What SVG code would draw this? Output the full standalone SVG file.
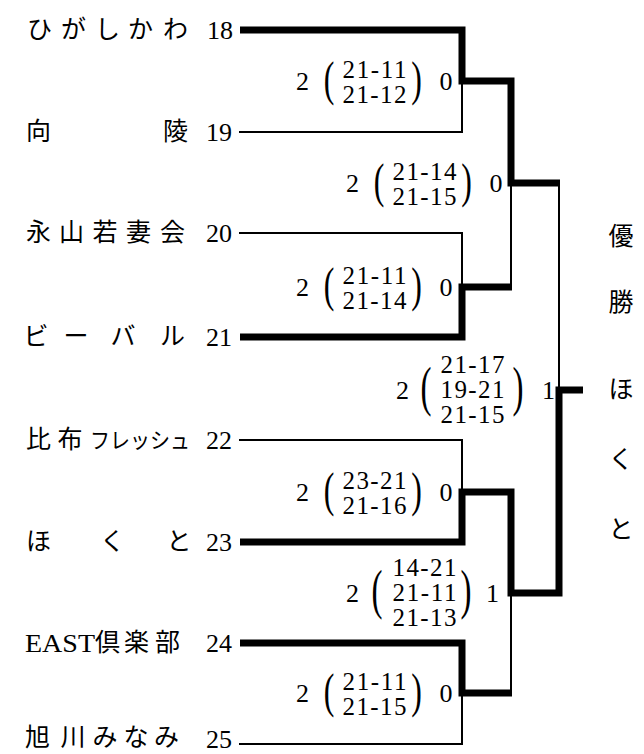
<svg xmlns="http://www.w3.org/2000/svg" width="644" height="754" viewBox="0 0 644 754">
<style>
.thick{fill:none;stroke:#000;stroke-width:7;stroke-linejoin:miter;stroke-linecap:butt}
.thin{fill:none;stroke:#000;stroke-width:2;stroke-linecap:square}
.jp{font-family:"Noto Sans CJK JP",sans-serif;font-size:25px;fill:#000}
.kana{font-family:"Noto Sans CJK JP",sans-serif;font-size:22px;fill:#000}
.num{font-family:"Liberation Serif","DejaVu Serif",serif;font-size:26px;text-anchor:end;fill:#000}
.lat{font-family:"Liberation Serif","DejaVu Serif",serif;font-size:25px;fill:#000}
.big{font-family:"Liberation Serif","DejaVu Serif",serif;font-size:26px;text-anchor:middle;fill:#000}
.sc{font-family:"Liberation Serif","DejaVu Serif",serif;font-size:25px;text-anchor:middle;fill:#000}
.p2{font-family:"Liberation Serif","DejaVu Serif",serif;font-size:49px;text-anchor:middle;fill:#000}
.p3{font-family:"Liberation Serif","DejaVu Serif",serif;font-size:55px;text-anchor:middle;fill:#000}
.win{font-family:"Noto Sans CJK JP",sans-serif;font-size:25px;text-anchor:middle;fill:#000}
</style>
<rect width="644" height="754" fill="#fff"/>
<g id="connectors">
<path class="thin" d="M240,132 H462 V81"/>
<path class="thin" d="M240,233 H462 V287"/>
<path class="thin" d="M240,440 H462 V492"/>
<path class="thin" d="M240,744 H462 V693"/>
<path class="thin" d="M511,183 V287"/>
<path class="thin" d="M511,593 V693"/>
<path class="thin" d="M559,183 V390"/>
<path class="thick" d="M240,30 H462 V81 H511 V183 H560"/>
<path class="thick" d="M240,337 H462 V287 H512"/>
<path class="thick" d="M240,643 H462 V693 H512"/>
<path class="thick" d="M240,542 H462 V492 H511 V593 H559 V390 H583"/>
</g>
<g id="team-18"><text class="jp" x="27 61 95 128 163" y="38">ひがしかわ</text><text class="num" x="233" y="39">18</text></g>
<g id="team-19"><text class="jp" x="26 163" y="140">向陵</text><text class="num" x="232" y="141">19</text></g>
<g id="team-20"><text class="jp" x="26 59 92.5 126 160" y="241">永山若妻会</text><text class="num" x="232" y="242">20</text></g>
<g id="team-21"><text class="jp" x="23.5 63.5 110.5 160" y="345">ビーバル</text><text class="num" x="232" y="346">21</text></g>
<g id="team-22"><text class="jp" x="26 57.5" y="448">比布</text><text class="kana" x="90" y="448" textLength="100" lengthAdjust="spacingAndGlyphs">フレッシュ</text><text class="num" x="232" y="449">22</text></g>
<g id="team-23"><text class="jp" x="26 100 166.5" y="550">ほくと</text><text class="num" x="232" y="551">23</text></g>
<g id="team-24"><text class="lat" x="25" y="652" textLength="70" lengthAdjust="spacingAndGlyphs">EAST</text><text class="jp" x="95 124 155" y="651">倶楽部</text><text class="num" x="232" y="652">24</text></g>
<g id="team-25"><text class="jp" x="25 60.5 92.5 123.5 154" y="746">旭川みなみ</text><text class="num" x="232" y="748">25</text></g>
<g id="score-a">
<text class="big" x="302.5" y="90">2</text><text class="p2" transform="translate(329,95) scale(0.65,1)">(</text>
<text class="sc" x="374.5" y="78" textLength="64">21-11</text><text class="sc" x="374.5" y="103" textLength="64">21-12</text>
<text class="p2" transform="translate(416.5,95) scale(0.65,1)">)</text><text class="big" x="446" y="90">0</text>
</g>
<g id="score-b">
<text class="big" x="352.5" y="192">2</text><text class="p2" transform="translate(379,197) scale(0.65,1)">(</text>
<text class="sc" x="424.5" y="180" textLength="64">21-14</text><text class="sc" x="424.5" y="205" textLength="64">21-15</text>
<text class="p2" transform="translate(466.5,197) scale(0.65,1)">)</text><text class="big" x="496" y="192">0</text>
</g>
<g id="score-c">
<text class="big" x="302.5" y="296">2</text><text class="p2" transform="translate(329,301) scale(0.65,1)">(</text>
<text class="sc" x="374.5" y="284" textLength="64">21-11</text><text class="sc" x="374.5" y="309" textLength="64">21-14</text>
<text class="p2" transform="translate(416.5,301) scale(0.65,1)">)</text><text class="big" x="446" y="296">0</text>
</g>
<g id="score-d">
<text class="big" x="402.5" y="399">2</text><text class="p3" transform="translate(426,405) scale(0.6,1)">(</text>
<text class="sc" x="472.5" y="373" textLength="64">21-17</text><text class="sc" x="472.5" y="398" textLength="64">19-21</text><text class="sc" x="472.5" y="423" textLength="64">21-15</text>
<text class="p3" transform="translate(518,405) scale(0.6,1)">)</text><text class="big" x="548.5" y="399">1</text>
</g>
<g id="score-e">
<text class="big" x="302.5" y="501">2</text><text class="p2" transform="translate(329,506) scale(0.65,1)">(</text>
<text class="sc" x="374.5" y="489" textLength="64">23-21</text><text class="sc" x="374.5" y="514" textLength="64">21-16</text>
<text class="p2" transform="translate(416.5,506) scale(0.65,1)">)</text><text class="big" x="446" y="501">0</text>
</g>
<g id="score-f">
<text class="big" x="352.5" y="602">2</text><text class="p3" transform="translate(377,608) scale(0.6,1)">(</text>
<text class="sc" x="424.5" y="576" textLength="64">14-21</text><text class="sc" x="424.5" y="601" textLength="64">21-11</text><text class="sc" x="424.5" y="626" textLength="64">21-13</text>
<text class="p3" transform="translate(466,608) scale(0.6,1)">)</text><text class="big" x="492.5" y="602">1</text>
</g>
<g id="score-g">
<text class="big" x="302.5" y="702">2</text><text class="p2" transform="translate(329,707) scale(0.65,1)">(</text>
<text class="sc" x="374.5" y="690" textLength="64">21-11</text><text class="sc" x="374.5" y="715" textLength="64">21-15</text>
<text class="p2" transform="translate(416.5,707) scale(0.65,1)">)</text><text class="big" x="446" y="702">0</text>
</g>
<g id="champion">
<text class="win" x="621" y="244.5">優</text>
<text class="win" x="621" y="311">勝</text>
<text class="win" x="621" y="398">ほ</text>
<text class="win" x="621" y="468">く</text>
<text class="win" x="621" y="538">と</text>
</g>
</svg>
